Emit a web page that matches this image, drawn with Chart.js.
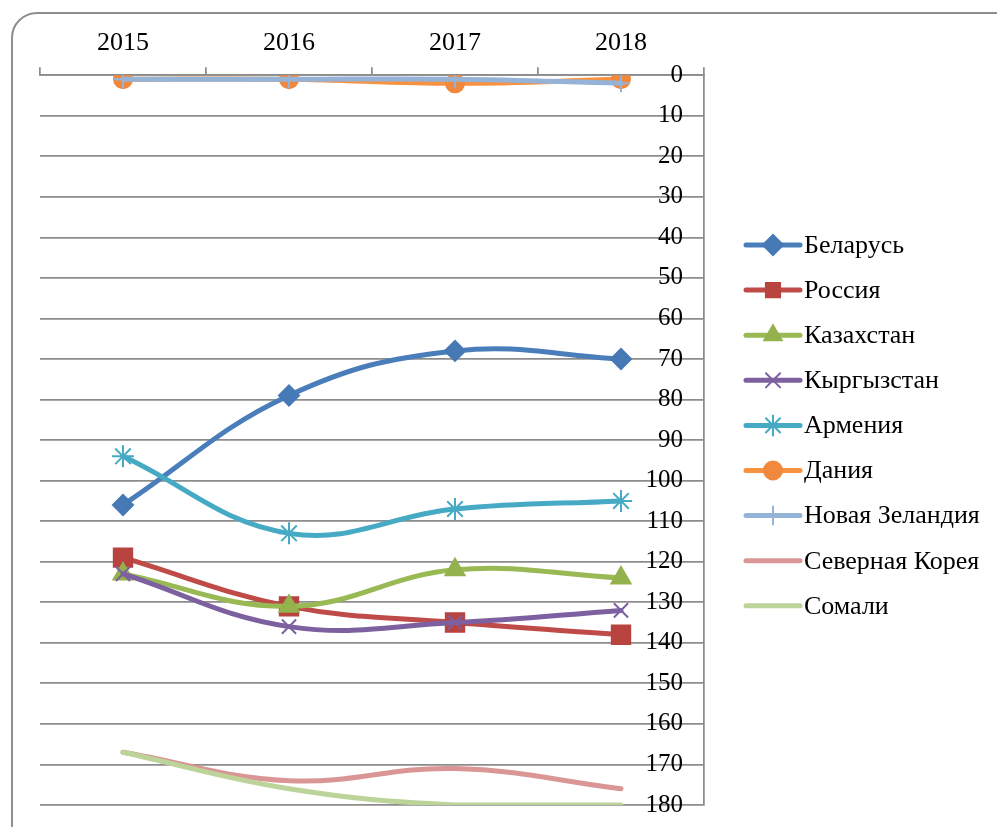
<!DOCTYPE html>
<html lang="ru">
<head>
  <meta charset="UTF-8">
  <title>Рейтинг стран 2015–2018</title>
  <script src="https://cdn.jsdelivr.net/npm/chart.js"></script>
  <style>
    body {
      margin: 0;
      background: #fff;
      overflow: hidden;
    }
    .frame {
      position: absolute;
      left: 11px;
      top: 12px;
      width: 1010px;
      height: 840px;
      border: 2px solid #8e8e8e;
      border-radius: 26px;
    }
    .wrap {
      position: absolute;
      left: 0;
      top: 0;
      width: 997px;
      height: 820px;
    }
  </style>
</head>
<body>
  <div class="frame"></div>
  <div class="wrap"><canvas id="chart" width="997" height="820"></canvas></div>
  <script>
    // years on the top axis
    const years = ['2015', '2016', '2017', '2018'];

    // place in the ranking (axis is reversed)
    const belarus    = [106, 79, 68, 70];
    const russia     = [119, 131, 135, 138];
    const kazakhstan = [123, 131, 122, 124];
    const kyrgyzstan = [123, 136, 135, 132];
    const armenia    = [94, 113, 107, 105];
    const denmark    = [1, 1, 2, 1];
    const newZealand = [1, 1, 1, 2];
    const northKorea = [167, 174, 171, 176];
    const somalia    = [167, 176, 180, 180];

    // y axis range
    const yMin = 0;
    const yMax = 180;
    const yStep = 10;

    const serif = "'Liberation Serif', 'Times New Roman', serif";
    const gridGray = '#8c8c8c';

    function series(label, data, color, marker, radius, markerColor) {
      return {
        label: label,
        data: data,
        borderColor: color,
        borderWidth: 5,
        borderCapStyle: 'round',
        borderJoinStyle: 'round',
        tension: 0.4,
        pointStyle: marker || 'circle',
        pointRadius: marker ? radius : 0,
        pointHoverRadius: marker ? radius : 0,
        pointBackgroundColor: markerColor || color,
        pointBorderColor: markerColor || color,
        pointBorderWidth: 2,
        fill: false
      };
    }

    const datasets = [
      series('Беларусь', belarus, '#4A7EBB', 'rectRot', 10, '#4679B5'),
      series('Россия', russia, '#BE4B48', 'rect', 13, '#B8433F'),
      series('Казахстан', kazakhstan, '#98B954', 'triangle', 11, '#93B24D'),
      series('Кыргызстан', kyrgyzstan, '#7D60A0', 'crossRot', 10),
      series('Армения', armenia, '#46AAC5', 'star', 11),
      series('Дания', denmark, '#F69240', 'circle', 9, '#F0883E'),
      series('Новая Зеландия', newZealand, '#95B3D7', 'cross', 9),
      series('Северная Корея', northKorea, '#D99694', null, 0),
      series('Сомали', somalia, '#BCD39A', null, 0)
    ];
    // later series sit on top, as in the original
    datasets.forEach((d, i) => { d.order = datasets.length - i; });

    // legend on the right: line sample with marker, then the name
    const sideLegend = {
      id: 'sideLegend',
      afterDraw(chart) {
        const ctx = chart.ctx;
        const x0 = chart.chartArea.right + 42;
        const top = 245;
        const gap = 45.1;
        chart.data.datasets.forEach((ds, i) => {
          const y = top + i * gap;
          ctx.save();
          ctx.strokeStyle = ds.borderColor;
          ctx.lineWidth = 5;
          ctx.lineCap = 'round';
          ctx.beginPath();
          ctx.moveTo(x0, y);
          ctx.lineTo(x0 + 54, y);
          ctx.stroke();
          if (ds.pointRadius > 0 && Chart.helpers && Chart.helpers.drawPoint) {
            ctx.fillStyle = ds.pointBackgroundColor;
            ctx.strokeStyle = ds.pointBorderColor;
            ctx.lineWidth = ds.pointBorderWidth;
            Chart.helpers.drawPoint(ctx, {
              pointStyle: ds.pointStyle,
              radius: Math.min(ds.pointRadius, 10),
              rotation: 0,
              borderWidth: ds.pointBorderWidth
            }, x0 + 27, y);
          }
          ctx.fillStyle = '#000';
          ctx.font = '26px ' + serif;
          ctx.textBaseline = 'middle';
          ctx.textAlign = 'left';
          ctx.fillText(ds.label, x0 + 58, y + 1);
          ctx.restore();
        });
      }
    };

    new Chart(document.getElementById('chart'), {
      type: 'line',
      data: { labels: years, datasets: datasets },
      plugins: [sideLegend],
      options: {
        responsive: false,
        animation: false,
        layout: { padding: { left: 40, right: 293, top: 20, bottom: 8 } },
        plugins: {
          legend: { display: false },
          tooltip: { enabled: false }
        },
        scales: {
          x: {
            position: 'top',
            offset: true,
            grid: {
              offset: true,
              drawOnChartArea: false,
              drawTicks: true,
              tickLength: 8,
              color: gridGray,
              lineWidth: 1.75
            },
            border: { display: true, color: gridGray, width: 1.75 },
            ticks: {
              color: '#000',
              font: { family: serif, size: 26 },
              padding: 8
            }
          },
          y: {
            position: 'right',
            reverse: true,
            min: yMin,
            max: yMax,
            // labels sit inside the plot, so the axis takes no room
            afterFit(scale) { scale.width = 0; },
            grid: { color: gridGray, lineWidth: 1.75, drawTicks: false },
            border: { display: true, color: gridGray, width: 1.75 },
            ticks: {
              stepSize: yStep,
              mirror: true,
              padding: -21,
              color: '#000',
              font: { family: serif, size: 25 }
            }
          }
        }
      }
    });
  </script>
</body>
</html>
